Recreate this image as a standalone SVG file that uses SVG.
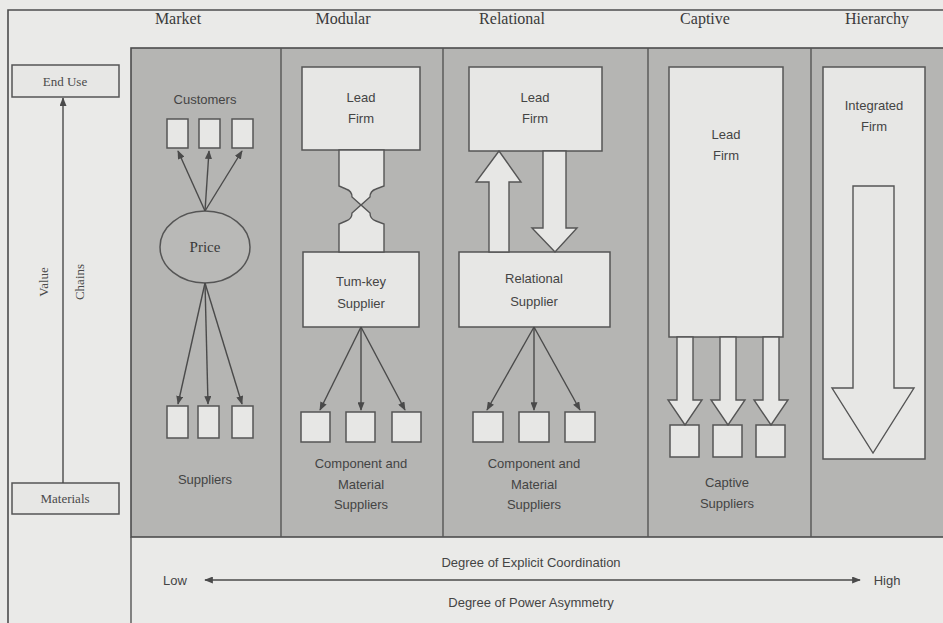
<svg xmlns="http://www.w3.org/2000/svg" width="943" height="623" viewBox="0 0 943 623">
  <defs>
    <marker id="tip" viewBox="0 0 10 8" refX="9" refY="4" markerWidth="9" markerHeight="7" markerUnits="userSpaceOnUse" orient="auto">
      <path d="M0,0 L10,4 L0,8 Z" fill="#4a4a4a"/>
    </marker>
    <marker id="tipBack" viewBox="0 0 10 8" refX="1" refY="4" markerWidth="9" markerHeight="7" markerUnits="userSpaceOnUse" orient="auto">
      <path d="M10,0 L0,4 L10,8 Z" fill="#4a4a4a"/>
    </marker>
  </defs>
  <style>
    .frame { fill: none; stroke: #4d4d4d; stroke-width: 1.6; }
    .panel { fill: #b5b5b3; stroke: #4d4d4d; stroke-width: 1.6; }
    .divider { stroke: #555; stroke-width: 1.4; }
    .box { fill: #e7e7e5; stroke: #555; stroke-width: 1.5; }
    .block { fill: #e7e7e5; stroke: #555; stroke-width: 1.4; stroke-linejoin: miter; }
    .edge { fill: none; stroke: #4a4a4a; stroke-width: 1.4; marker-end: url(#tip); }
    .head { font-family: "Liberation Serif", "Times New Roman", serif; font-size: 16px; fill: #3a3a3a; text-anchor: middle; }
    .side { font-family: "Liberation Serif", "Times New Roman", serif; font-size: 13px; fill: #4a4a4a; text-anchor: middle; }
    .lbl { font-family: "Liberation Sans", Arial, sans-serif; font-size: 13px; fill: #444; text-anchor: middle; }
    .price { font-family: "Liberation Serif", "Times New Roman", serif; font-size: 15px; fill: #3a3a3a; text-anchor: middle; }
  </style>

  <!-- page background -->
  <rect x="0" y="0" width="943" height="623" fill="#eaeae8"/>

  <!-- outer frame -->
  <path class="frame" d="M8,623 V10 H943"/>

  <!-- column headings -->
  <g id="headings">
    <text class="head" x="178" y="24">Market</text>
    <text class="head" x="343" y="24">Modular</text>
    <text class="head" x="512" y="24">Relational</text>
    <text class="head" x="705" y="24">Captive</text>
    <text class="head" x="877" y="24">Hierarchy</text>
  </g>

  <!-- shaded governance panel and column dividers -->
  <rect class="panel" x="131" y="48" width="814" height="489"/>
  <line class="divider" x1="131" y1="537" x2="131" y2="623"/>
  <line class="divider" x1="281" y1="48" x2="281" y2="537"/>
  <line class="divider" x1="443" y1="48" x2="443" y2="537"/>
  <line class="divider" x1="648" y1="48" x2="648" y2="537"/>
  <line class="divider" x1="811" y1="48" x2="811" y2="537"/>

  <!-- value chain axis -->
  <g id="end-use">
    <rect class="box" x="12" y="65" width="107" height="32" fill="#ececea"/>
    <text class="side" x="65" y="86">End Use</text>
  </g>
  <g id="materials">
    <rect class="box" x="12" y="483" width="107" height="31" fill="#ececea"/>
    <text class="side" x="65" y="503">Materials</text>
  </g>
  <g id="value-chain-labels">
    <text class="side" font-size="15" transform="translate(48,282) rotate(-90)">Value</text>
    <text class="side" font-size="15" transform="translate(84,282) rotate(-90)">Chains</text>
  </g>

  <!-- Market -->
  <g id="market-customers">
    <text class="lbl" x="205" y="104">Customers</text>
    <rect class="box" x="167" y="119" width="21" height="29"/>
    <rect class="box" x="199" y="119" width="21" height="29"/>
    <rect class="box" x="232" y="119" width="21" height="29"/>
  </g>
  <g id="market-price">
    <ellipse cx="205" cy="247" rx="45" ry="36" fill="#b9b9b7" stroke="#555" stroke-width="1.5"/>
    <text class="price" x="205" y="252">Price</text>
  </g>
  <g id="market-suppliers">
    <rect class="box" x="167" y="406" width="21" height="32"/>
    <rect class="box" x="198" y="406" width="21" height="32"/>
    <rect class="box" x="232" y="406" width="21" height="32"/>
    <text class="lbl" x="205" y="484">Suppliers</text>
  </g>

  <!-- Modular -->
  <g id="modular-lead-firm">
    <rect class="box" x="302" y="67" width="118" height="83"/>
    <text class="lbl" x="361" y="102">Lead</text>
    <text class="lbl" x="361" y="123">Firm</text>
  </g>
  <g id="modular-turnkey-supplier">
    <rect class="box" x="303" y="252" width="116" height="75"/>
    <text class="lbl" x="361" y="286">Tum-key</text>
    <text class="lbl" x="361" y="308">Supplier</text>
  </g>
  <g id="modular-component-suppliers">
    <rect class="box" x="301" y="412" width="29" height="30"/>
    <rect class="box" x="346" y="412" width="29" height="30"/>
    <rect class="box" x="392" y="412" width="29" height="30"/>
    <text class="lbl" x="361" y="468">Component and</text>
    <text class="lbl" x="361" y="489">Material</text>
    <text class="lbl" x="361" y="509">Suppliers</text>
  </g>

  <!-- Relational -->
  <g id="relational-lead-firm">
    <rect class="box" x="469" y="67" width="133" height="84"/>
    <text class="lbl" x="535" y="102">Lead</text>
    <text class="lbl" x="535" y="123">Firm</text>
  </g>
  <g id="relational-supplier">
    <rect class="box" x="459" y="252" width="151" height="75"/>
    <text class="lbl" x="534" y="283">Relational</text>
    <text class="lbl" x="534" y="306">Supplier</text>
  </g>
  <g id="relational-component-suppliers">
    <rect class="box" x="473" y="412" width="30" height="30"/>
    <rect class="box" x="519" y="412" width="30" height="30"/>
    <rect class="box" x="565" y="412" width="30" height="30"/>
    <text class="lbl" x="534" y="468">Component and</text>
    <text class="lbl" x="534" y="489">Material</text>
    <text class="lbl" x="534" y="509">Suppliers</text>
  </g>

  <!-- Captive -->
  <g id="captive-lead-firm">
    <rect class="box" x="669" y="67" width="114" height="270"/>
    <text class="lbl" x="726" y="139">Lead</text>
    <text class="lbl" x="726" y="160">Firm</text>
  </g>
  <g id="captive-suppliers">
    <rect class="box" x="670" y="425" width="29" height="32"/>
    <rect class="box" x="713" y="425" width="29" height="32"/>
    <rect class="box" x="756" y="425" width="29" height="32"/>
    <text class="lbl" x="727" y="487">Captive</text>
    <text class="lbl" x="727" y="508">Suppliers</text>
  </g>

  <!-- Hierarchy -->
  <g id="integrated-firm">
    <rect class="box" x="823" y="67" width="102" height="392"/>
    <text class="lbl" x="874" y="110">Integrated</text>
    <text class="lbl" x="874" y="131">Firm</text>
    <polygon class="block" points="853,186 894,186 894,388 914,388 873,453 832,388 853,388"/>
  </g>

  <!-- connectors -->
  <g id="connectors">
    <!-- market: price to customers and suppliers -->
    <line class="edge" x1="205" y1="211" x2="178" y2="151"/>
    <line class="edge" x1="205" y1="211" x2="209" y2="151"/>
    <line class="edge" x1="205" y1="211" x2="242" y2="151"/>
    <line class="edge" x1="205" y1="283" x2="178" y2="404"/>
    <line class="edge" x1="205" y1="283" x2="208" y2="404"/>
    <line class="edge" x1="205" y1="283" x2="242" y2="404"/>

    <!-- modular: interlocking plug between lead firm and turn-key supplier -->
    <path class="block" d="M339,150 H384 V186 L376,189 Q370,191 370,197 L361,205 L352,197 Q352,191 346,189 L339,186 Z"/>
    <path class="block" d="M339,252 H384 V224 L376,221 Q370,219 370,213 L361,205 L352,213 Q352,219 346,221 L339,224 Z"/>
    <line class="edge" x1="361" y1="327" x2="320" y2="410"/>
    <line class="edge" x1="361" y1="327" x2="361" y2="410"/>
    <line class="edge" x1="361" y1="327" x2="405" y2="410"/>

    <!-- relational: two-way block arrows and supplier fan-out -->
    <polygon class="block" points="489,252 489,182 476,182 499,151 521,182 509,182 509,252"/>
    <polygon class="block" points="543,151 566,151 566,228 577,228 555,252 532,228 543,228"/>
    <line class="edge" x1="534" y1="327" x2="487" y2="410"/>
    <line class="edge" x1="534" y1="327" x2="534" y2="410"/>
    <line class="edge" x1="534" y1="327" x2="580" y2="410"/>

    <!-- captive: block arrows down to suppliers -->
    <polygon class="block" points="677,337 693,337 693,400 702,400 685,425 668,400 677,400"/>
    <polygon class="block" points="720,337 736,337 736,400 745,400 728,425 711,400 720,400"/>
    <polygon class="block" points="763,337 779,337 779,400 788,400 771,425 754,400 763,400"/>

    <!-- value chain direction -->
    <line class="edge" x1="63" y1="483" x2="63" y2="98"/>

    <!-- coordination / power axis -->
    <line x1="205" y1="580" x2="860" y2="580" stroke="#4a4a4a" stroke-width="1.4" marker-start="url(#tipBack)" marker-end="url(#tip)"/>
  </g>

  <!-- axis labels -->
  <g id="axis-labels">
    <text class="lbl" x="531" y="567">Degree of Explicit Coordination</text>
    <text class="lbl" x="175" y="585">Low</text>
    <text class="lbl" x="887" y="585">High</text>
    <text class="lbl" x="531" y="607">Degree of Power Asymmetry</text>
  </g>
</svg>
